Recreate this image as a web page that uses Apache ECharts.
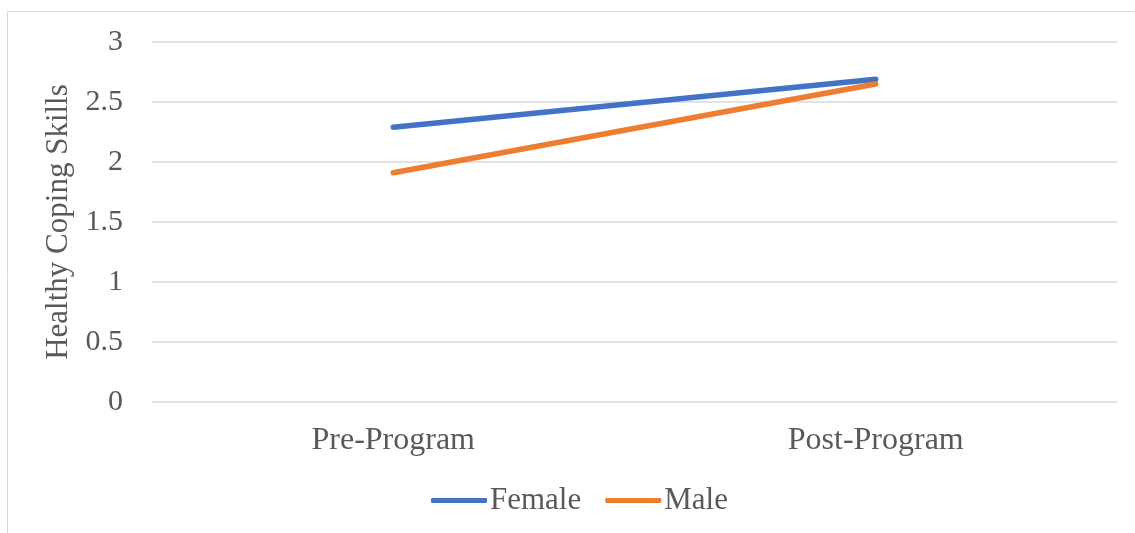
<!DOCTYPE html>
<html>
<head>
<meta charset="utf-8">
<script src="https://cdn.jsdelivr.net/npm/echarts@6/dist/echarts.min.js"></script>
<style>
  html, body { margin: 0; padding: 0; background: #fff; }
  #chart { width: 1135px; height: 533px; }
</style>
</head>
<body>
<div id="chart"></div>
<script>
// Mean healthy coping skill scores before and after the program
const categories = ['Pre-Program', 'Post-Program'];
const femaleValues = [2.29, 2.69];
const maleValues = [1.91, 2.65];
const yTicks = { min: 0, max: 3, interval: 0.5 };

const textColor = '#595959';
const serif = '"Liberation Serif", "Times New Roman", serif';

const chart = echarts.init(document.getElementById('chart'));
chart.setOption({
  animation: false,
  backgroundColor: '#ffffff',
  textStyle: { fontFamily: serif },
  graphic: [{
    type: 'rect',
    shape: { x: 7.5, y: 11.5, width: 1200, height: 600 },
    style: { fill: 'none', stroke: '#d9d9d9', lineWidth: 1 },
    silent: true
  }],
  grid: { left: 152, right: 18, top: 42, bottom: 131, containLabel: false },
  legend: {
    data: ['Female', 'Male'],
    top: 480,
    left: 426,
    icon: 'roundRect',
    itemWidth: 56,
    itemHeight: 5,
    itemGap: 24,
    textStyle: { color: textColor, fontSize: 31, fontFamily: serif, padding: [0, 0, 0, -2] }
  },
  xAxis: {
    type: 'category',
    data: categories,
    boundaryGap: true,
    axisLine: { show: false },
    axisTick: { show: false },
    axisLabel: { color: textColor, fontSize: 32, fontFamily: serif, margin: 23 }
  },
  yAxis: {
    type: 'value',
    min: yTicks.min,
    max: yTicks.max,
    interval: yTicks.interval,
    name: 'Healthy Coping Skills',
    nameLocation: 'middle',
    nameGap: 78,
    nameRotate: 90,
    nameTextStyle: { color: textColor, fontSize: 31, fontFamily: serif },
    axisLine: { show: false },
    axisTick: { show: false },
    axisLabel: { color: textColor, fontSize: 30, fontFamily: serif, margin: 29 },
    splitLine: { lineStyle: { color: '#d9d9d9', width: 1.5 } }
  },
  series: [
    {
      name: 'Female',
      type: 'line',
      data: femaleValues,
      symbol: 'none',
      lineStyle: { color: '#4472C4', width: 5.5, cap: 'round' },
      itemStyle: { color: '#4472C4' }
    },
    {
      name: 'Male',
      type: 'line',
      data: maleValues,
      symbol: 'none',
      lineStyle: { color: '#ED7D31', width: 5.5, cap: 'round' },
      itemStyle: { color: '#ED7D31' }
    }
  ]
});
</script>
</body>
</html>
